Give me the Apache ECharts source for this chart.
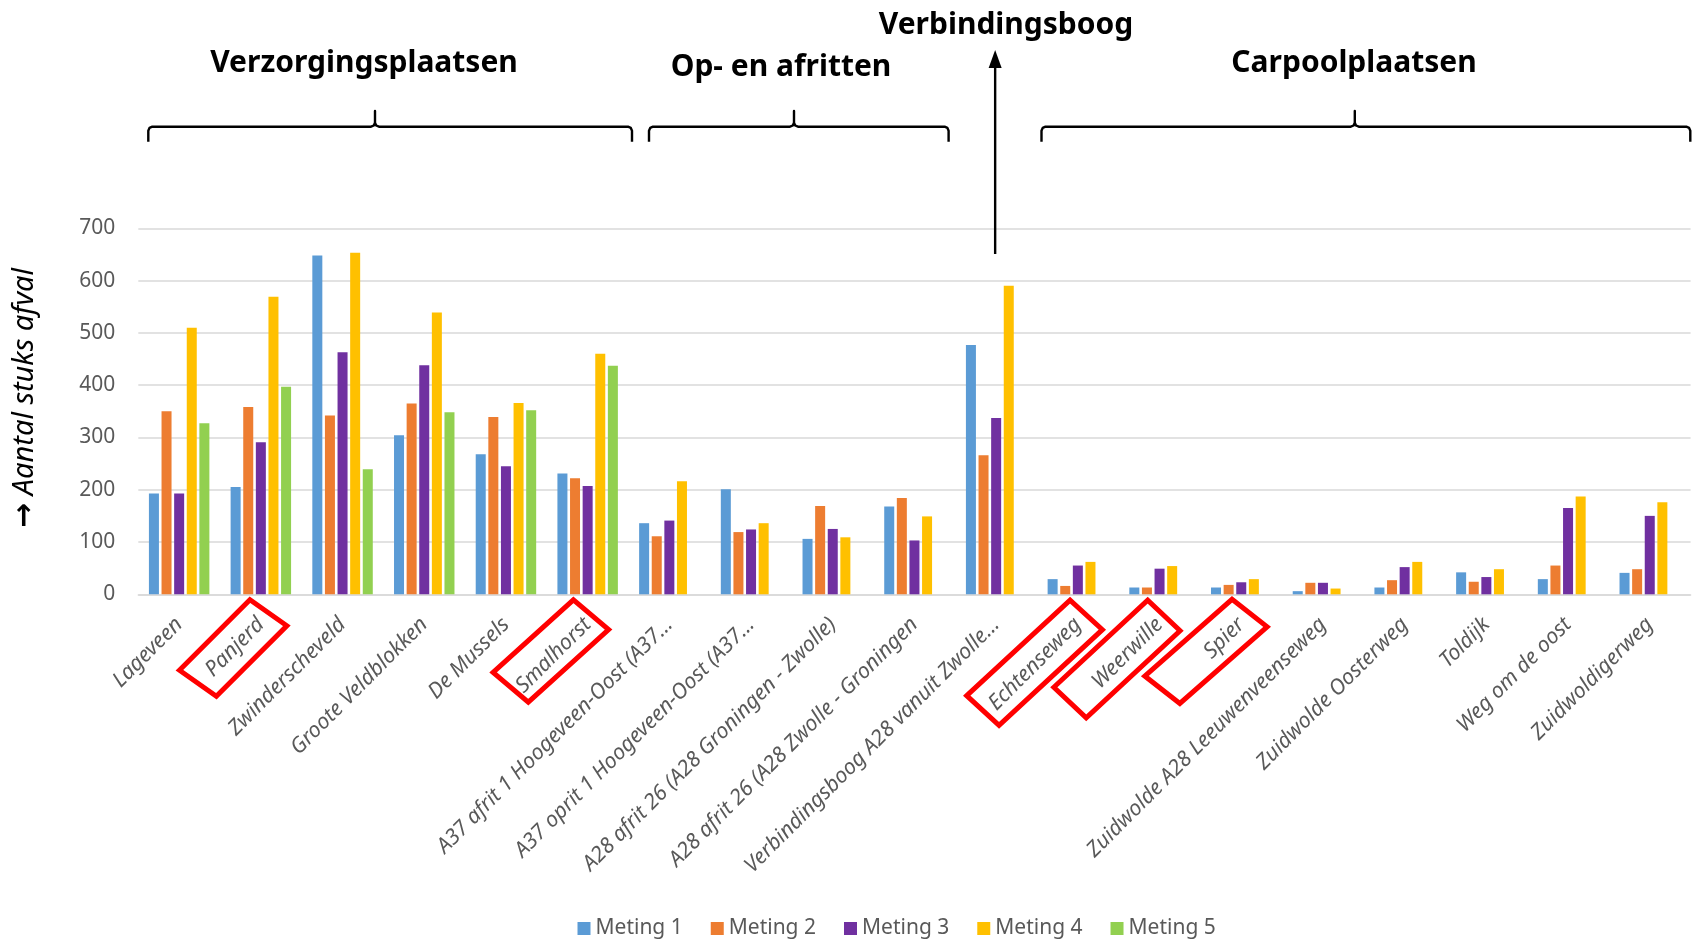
<!DOCTYPE html>
<html>
<head>
<meta charset="utf-8">
<title>Aantal stuks afval per locatie</title>
<script src="https://cdn.jsdelivr.net/npm/echarts/dist/echarts.min.js"></script>
<style>
  html, body { margin: 0; padding: 0; background: #ffffff; }
  #chart { width: 1694px; height: 941px; }
</style>
</head>
<body>
<div id="chart"></div>
<script>
// Locations (axis labels as printed, long names shortened)
const categories = [
  'Lageveen', 'Panjerd', 'Zwinderscheveld', 'Groote Veldblokken', 'De Mussels', 'Smalhorst',
  'A37 afrit 1 Hoogeveen-Oost (A37…', 'A37 oprit 1 Hoogeveen-Oost (A37…',
  'A28 afrit 26 (A28 Groningen - Zwolle)', 'A28 afrit 26 (A28 Zwolle - Groningen',
  'Verbindingsboog A28 vanuit Zwolle…',
  'Echtenseweg', 'Weerwille', 'Spier', 'Zuidwolde A28 Leeuwenveenseweg',
  'Zuidwolde Oosterweg', 'Toldijk', 'Weg om de oost', 'Zuidwoldigerweg'
];

// Pieces of litter counted per measurement round
const meting1 = [193, 205, 648, 304, 268, 231, 136, 201, 106, 168, 477, 29, 13, 13, 6, 13, 42, 29, 41];
const meting2 = [350, 358, 342, 365, 339, 222, 111, 119, 169, 184, 266, 16, 13, 18, 22, 27, 24, 55, 48];
const meting3 = [193, 291, 463, 438, 245, 207, 141, 124, 125, 103, 337, 55, 49, 23, 22, 52, 33, 165, 150];
const meting4 = [510, 569, 653, 539, 366, 460, 216, 136, 109, 149, 590, 62, 54, 29, 11, 62, 48, 187, 176];
const meting5 = [327, 397, 239, 348, 352, 437, null, null, null, null, null, null, null, null, null, null, null, null, null];

const seriesNames = ['Meting 1', 'Meting 2', 'Meting 3', 'Meting 4', 'Meting 5'];
const seriesValues = [meting1, meting2, meting3, meting4, meting5];

// Y-axis scale
const yMin = 0, yMax = 700, yStep = 100;

// Location groups shown above the plot
const groupTitles = ['Verzorgingsplaatsen', 'Op- en afritten', 'Verbindingsboog', 'Carpoolplaatsen'];

// Locations marked with a red frame
const highlighted = ['Panjerd', 'Smalhorst', 'Echtenseweg', 'Weerwille', 'Spier'];

const yAxisArrow = '→';
const yAxisTitle = 'Aantal stuks afval';

// ---- styling ----
const colors = ['#5B9BD5', '#ED7D31', '#7030A0', '#FFC000', '#92D050'];
const FONT = '"Noto Sans", "Open Sans", sans-serif';
const GRID = { left: 138.3, right: 3.4, top: 228.3, bottom: 346.7 };

const chart = echarts.init(document.getElementById('chart'), null, { renderer: 'canvas' });

const option = {
  animation: false,
  backgroundColor: '#ffffff',
  textStyle: { fontFamily: FONT },
  grid: { left: GRID.left, right: GRID.right, top: GRID.top, bottom: GRID.bottom, containLabel: false },
  legend: {
    data: seriesNames,
    left: 572.5,
    top: 913,
    icon: 'rect',
    itemWidth: 13,
    itemHeight: 13,
    itemGap: 28,
    textStyle: { fontSize: 21, color: '#595959', fontFamily: FONT }
  },
  xAxis: {
    type: 'category',
    data: categories,
    axisTick: { show: false },
    axisLine: { show: true, lineStyle: { color: '#d9d9d9', width: 1.5 } },
    axisLabel: {
      interval: 0,
      rotate: 45,
      margin: 27,
      fontSize: 21.4,
      fontStyle: 'italic',
      color: '#595959',
      fontFamily: FONT,
      hideOverlap: false
    },
    splitLine: { show: false }
  },
  yAxis: {
    type: 'value',
    min: yMin,
    max: yMax,
    interval: yStep,
    axisLine: { show: false },
    axisTick: { show: false },
    axisLabel: { fontSize: 21, color: '#595959', margin: 23, fontFamily: FONT },
    splitLine: { lineStyle: { color: '#d9d9d9', width: 1.5 } }
  },
  series: seriesNames.map((name, i) => ({
    name: name,
    type: 'bar',
    data: seriesValues[i],
    barGap: '26%',
    barCategoryGap: '26%',
    itemStyle: { color: colors[i] }
  }))
};

chart.setOption(option);

// ---- annotations: group braces, titles, arrow, red frames ----
const xOf = i => chart.convertToPixel({ xAxisIndex: 0 }, categories[i]);
const baseY = chart.convertToPixel({ yAxisIndex: 0 }, 0);

function brace(x0, x1, xp) {
  const yl = 126.7, yEnd = 141.7, yPeak = 111, r = 4;
  return {
    type: 'polyline',
    shape: {
      points: [
        [x0, yEnd], [x0, yl + r], [x0 + 1.2, yl + 1.2], [x0 + r, yl],
        [xp - r, yl], [xp - 1.2, yl - 1.2], [xp, yl - r], [xp, yPeak],
        [xp, yl - r], [xp + 1.2, yl - 1.2], [xp + r, yl],
        [x1 - r, yl], [x1 - 1.2, yl + 1.2], [x1, yl + r], [x1, yEnd]
      ]
    },
    style: { stroke: '#000000', lineWidth: 2.4, fill: null, lineJoin: 'round' },
    z: 50
  };
}

function title(text, x, y) {
  return {
    type: 'text',
    x: x, y: y,
    style: {
      text: text,
      font: 'bold 30px ' + FONT,
      fill: '#000000',
      align: 'center', verticalAlign: 'middle',
      textAlign: 'center', textVerticalAlign: 'middle'
    },
    z: 50
  };
}

const half = (xOf(1) - xOf(0)) / 2;
const bandLeft = i => xOf(i) - half;

const braces = [
  brace(bandLeft(0) + 10, bandLeft(6) + 3.5, 375),
  brace(bandLeft(6) + 20.5, bandLeft(10) - 6.7, 794),
  brace(bandLeft(11) + 4.5, bandLeft(18) + 2 * half - 0.3, 1354.8)
];

const titlePos = [[364, 63], [781, 67], [1006, 25], [1354, 63]];
const titles = groupTitles.map((t, i) => title(t, titlePos[i][0], titlePos[i][1]));

const arrowX = xOf(10) - 1;
const arrow = [
  {
    type: 'line',
    shape: { x1: arrowX, y1: 254, x2: arrowX, y2: 64 },
    style: { stroke: '#000000', lineWidth: 2.4 },
    z: 50
  },
  {
    type: 'polygon',
    shape: { points: [[arrowX, 50], [arrowX - 6.5, 68], [arrowX + 6.5, 68]] },
    style: { fill: '#000000' },
    z: 50
  }
];

// Frame outlines: centre offset from category centre / axis line,
// plus the long and short edge vectors of each (slanted) frame.
const frameGeom = {
  'Panjerd':     { dx: -27.7, dy: 53.7, long: [74, -74],    short: [41, 29] },
  'Smalhorst':   { dx: -36.8, dy: 56.7, long: [84, -76],    short: [39, 33] },
  'Echtenseweg': { dx: -43.3, dy: 68.4, long: [107, -99],   short: [36, 33] },
  'Weerwille':   { dx: -42.6, dy: 64.7, long: [97.5, -90.5], short: [36, 34] },
  'Spier':       { dx: -35.3, dy: 57.1, long: [91, -80],    short: [39, 30.5] }
};
const STROKE = 5;
function inset(v) {
  const len = Math.hypot(v[0], v[1]);
  const k = (len - STROKE) / len / 2;
  return [v[0] * k, v[1] * k];
}
const frames = highlighted.map(name => {
  const g = frameGeom[name];
  const cx = xOf(categories.indexOf(name)) + g.dx;
  const cy = baseY + g.dy;
  const a = inset(g.long), b = inset(g.short);
  return {
    type: 'polygon',
    shape: {
      points: [
        [cx - a[0] - b[0], cy - a[1] - b[1]],
        [cx + a[0] - b[0], cy + a[1] - b[1]],
        [cx + a[0] + b[0], cy + a[1] + b[1]],
        [cx - a[0] + b[0], cy - a[1] + b[1]]
      ]
    },
    style: { fill: null, stroke: '#ff0000', lineWidth: STROKE, lineJoin: 'miter' },
    z: 100
  };
});

const yName = {
  type: 'text',
  x: 25, y: 398,
  rotation: Math.PI / 2,
  style: {
    text: '{arr|' + yAxisArrow + '} ' + yAxisTitle,
    font: 'italic 29px ' + FONT,
    fill: '#000000',
    align: 'center', verticalAlign: 'middle',
    textAlign: 'center', textVerticalAlign: 'middle',
    rich: {
      arr: {
        fontFamily: '"DejaVu Sans", sans-serif',
        fontSize: 30,
        fontWeight: 'bold',
        fontStyle: 'normal',
        fill: '#000000',
        color: '#000000'
      }
    }
  },
  z: 50
};

chart.setOption({ graphic: { elements: [].concat(braces, titles, arrow, frames, [yName]) } });
</script>
</body>
</html>
